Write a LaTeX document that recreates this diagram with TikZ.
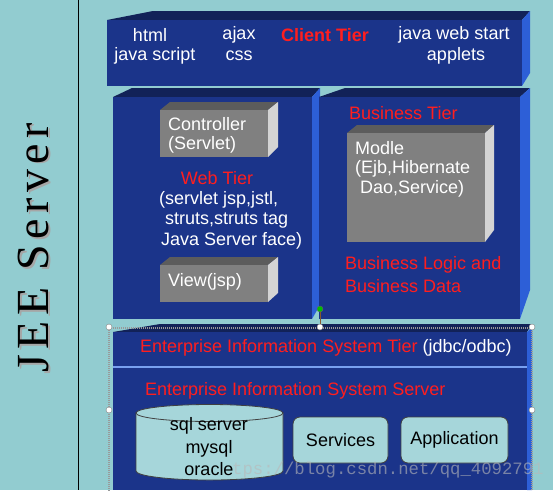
\documentclass[tikz,border=0pt]{standalone}
\usepackage{fontspec}
\setmainfont{Liberation Sans}
\newfontfamily\jeefont[LetterSpace=12]{Liberation Serif}
\newfontfamily\wmfont{Liberation Mono}
\definecolor{bgteal}{RGB}{146,204,208}
\definecolor{navy}{RGB}{27,52,138}
\definecolor{navytop}{RGB}{18,34,88}
\definecolor{sideblue}{RGB}{45,95,215}
\definecolor{gfront}{RGB}{128,128,128}
\definecolor{gtop}{RGB}{92,92,92}
\definecolor{gside}{RGB}{212,212,212}
\definecolor{tierred}{RGB}{255,30,30}
\definecolor{cylfill}{RGB}{166,214,218}
\definecolor{lineblue}{RGB}{120,160,240}
\tikzset{
  wtxt/.style={font=\fontsize{18}{21}\selectfont, text=white, inner sep=0pt},
  rtxt/.style={font=\fontsize{18}{21}\selectfont, text=tierred, inner sep=0pt},
  btxt/.style={font=\fontsize{18}{21}\selectfont, text=black, inner sep=0pt},
  frontface/.style={fill=navy},
  topface/.style={fill=navytop},
  sideface/.style={fill=sideblue},
  gfrontface/.style={fill=gfront},
  gtopface/.style={fill=gtop},
  gsideface/.style={fill=gside},
  tealbox/.style={draw=black!75, line width=0.8pt, fill=cylfill, rounded corners=7pt},
  handle/.style={circle, draw=gray, fill=white, inner sep=0pt, minimum size=6pt},
}
\begin{document}
\begin{tikzpicture}[x=1pt,y=-1pt]
\useasboundingbox (0,0) rectangle (553,490);
\fill[bgteal] (0,0) rectangle (553,490);
% vertical divider
\draw[black, line width=1pt] (78,0) -- (78,490);
% JEE Server
\node[rotate=90, text=gray!70, font=\jeefont\fontsize{46}{50}\selectfont, inner sep=0pt] (jeeshadow) at (35.5,249.5) {JEE Server};
\node[rotate=90, text=black, font=\jeefont\fontsize{46}{50}\selectfont, inner sep=0pt] (jee) at (33,248) {JEE Server};

% Client tier
\fill[topface] (107,20) -- (153,11) -- (530,11) -- (522,20) -- cycle;
\fill[frontface] (107,20) rectangle (522,86);
\fill[sideface] (522,20) -- (530,11) -- (530,73) -- (522,86) -- cycle;
\node[wtxt] (html) at (150,35) {html};
\node[wtxt] (js) at (155,56) {java script};
\node[wtxt] (ajax) at (239,35) {ajax};
\node[wtxt] (css) at (239,56) {css};
\node[rtxt, font=\bfseries\fontsize{18}{21}\selectfont] (client) at (325,35) {Client Tier};
\node[wtxt] (jws) at (454,35) {java web start};
\node[wtxt] (applets) at (456,56) {applets};

% Web tier
\fill[topface] (113,97) -- (132,88) -- (320,88) -- (312,97) -- cycle;
\fill[frontface] (113,97) rectangle (312,319);
\fill[sideface] (312,97) -- (320,88) -- (320,305) -- (312,319) -- cycle;

% Business tier
\fill[topface] (319,97) -- (345,88) -- (530,88) -- (520,97) -- cycle;
\fill[frontface] (319,97) rectangle (520,319);
\fill[sideface] (520,97) -- (530,88) -- (530,290) -- (520,319) -- cycle;

% Controller box
\fill[gtopface] (160,110) -- (170,102) -- (278,102) -- (268,110) -- cycle;
\fill[gfrontface] (160,110) rectangle (268,157);
\fill[gsideface] (268,110) -- (278,102) -- (278,147) -- (268,157) -- cycle;
\node[wtxt, anchor=west] (ctrl1) at (168,124) {Controller};
\node[wtxt, anchor=west] (ctrl2) at (168,145) {(Servlet)};

\node[rtxt] (web) at (217,178) {Web Tier};
\node[wtxt, anchor=west] (web1) at (159,200) {(servlet jsp,jstl,};
\node[wtxt, anchor=west] (web2) at (165,221) {struts,struts tag};
\node[wtxt, anchor=west] (web3) at (161,241) {Java Server face)};

% View box
\fill[gtopface] (160,265) -- (170,257) -- (278,257) -- (268,265) -- cycle;
\fill[gfrontface] (160,265) rectangle (268,302);
\fill[gsideface] (268,265) -- (278,257) -- (278,293) -- (268,302) -- cycle;
\node[wtxt, anchor=west] (view) at (168,282) {View(jsp)};

% Business
\node[rtxt, anchor=west] (biz) at (349,113) {Business Tier};
\fill[gtopface] (347,133) -- (357,125) -- (494,125) -- (485,133) -- cycle;
\fill[gfrontface] (347,133) rectangle (485,242);
\fill[gsideface] (485,133) -- (494,125) -- (494,230) -- (485,242) -- cycle;
\node[wtxt, anchor=west] (m1) at (355,148) {Modle};
\node[wtxt, anchor=west] (m2) at (355,169) {(Ejb,Hibernate};
\node[wtxt, anchor=west] (m3) at (360,189) {Dao,Service)};
\node[rtxt, anchor=west] (bl1) at (345,265) {Business Logic and};
\node[rtxt, anchor=west] (bl2) at (345,286) {Business Data};

% Enterprise tier
\fill[topface] (113,332) -- (160,324) -- (532,324) -- (527,332) -- cycle;
\fill[frontface] (113,332) rectangle (527,490);
\fill[sideface] (527,332) -- (532,327) -- (532,490) -- (527,490) -- cycle;
\draw[lineblue, line width=1.5pt] (113,367) -- (527,367);
\node[anchor=west, inner sep=0pt, font=\fontsize{18}{21}\selectfont] (eist) at (140,348)
  {\textcolor{tierred}{Enterprise Information System Tier} \textcolor{white}{(jdbc/odbc)}};
\node[rtxt, anchor=west] (eiss) at (145,391) {Enterprise Information System Server};

% Cylinder
\fill[cylfill, draw=black!75, line width=0.8pt] (136,413) -- (136,471) arc[start angle=180, end angle=0, x radius=73.5, y radius=9] -- (283,413) -- cycle;
\draw[fill=cylfill, draw=black!75, line width=0.8pt] (209.5,413) ellipse[x radius=73.5, y radius=8.5];
\node[btxt] (sql1) at (209,426) {sql server};
\node[btxt] (sql2) at (209,449) {mysql};
\node[btxt] (sql3) at (209,469) {oracle};

% Services / Application
\node[tealbox, minimum width=95pt, minimum height=46pt, font=\fontsize{18}{21}\selectfont] (svc) at (340.5,440) {Services};
\node[tealbox, minimum width=107pt, minimum height=46pt, font=\fontsize{18}{21}\selectfont] (app) at (454.5,440) {Application};

% watermark
\node[anchor=west, inner sep=0pt, text=gray!55, opacity=0.6, font=\wmfont\fontsize{17.3}{18}\selectfont] (wm) at (232,470) {tps://blog.csdn.net/qq\_4092791};

% selection frame and handles
\draw[gray!80, line width=2.5pt, dash pattern=on 1pt off 1pt] (109,328) -- (532,328) -- (532,492);
\draw[gray!80, line width=2.5pt, dash pattern=on 1pt off 1pt] (109,328) -- (109,492);
\coordinate (rot) at (320,309);
\node[handle] (hc) at (320,327) {};
\draw[brown!70!black, line width=0.8pt] (rot) -- (hc);
\node[circle, draw=black!60, fill=green!75!black, inner sep=0pt, minimum size=6pt] (hrot) at (rot) {};
\node[handle] (htl) at (109,327) {};
\node[handle] (htr) at (532,327) {};
\node[handle] (hml) at (109,410) {};
\node[handle] (hmr) at (532,410) {};
\end{tikzpicture}
\end{document}
